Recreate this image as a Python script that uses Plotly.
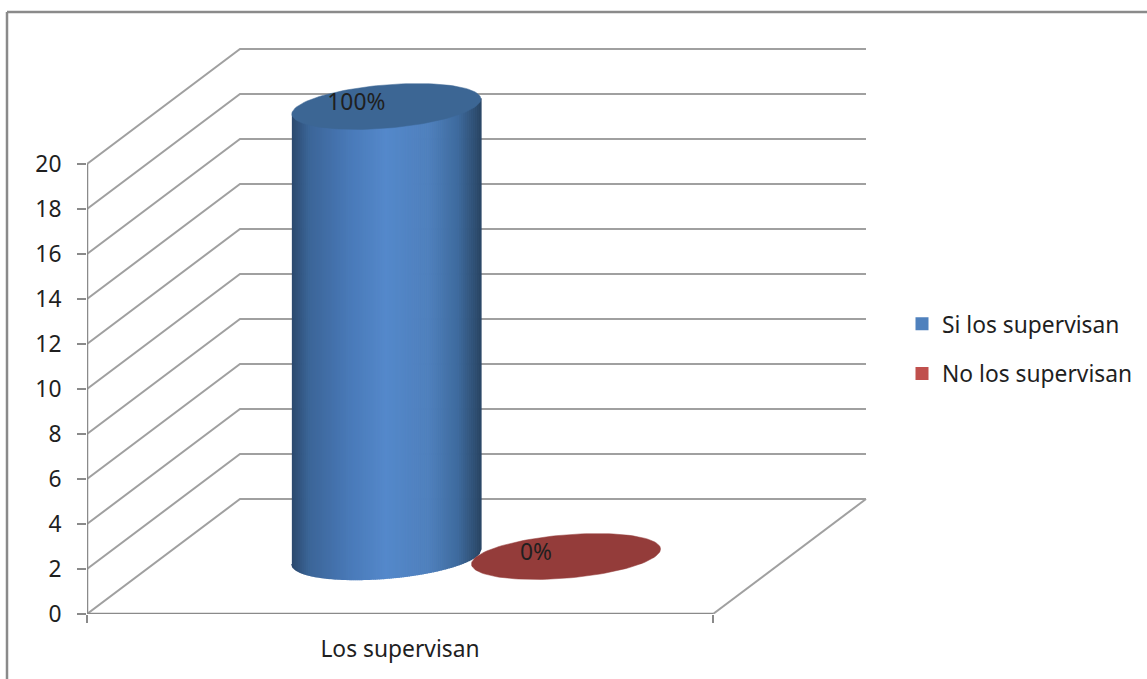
import numpy as np
import plotly.graph_objects as go

# ---- data ----
category = "Los supervisan"
series_names = ["Si los supervisan", "No los supervisan"]
series_values = [20, 0]
series_labels = ["100%", "0%"]
y_ticks = [0, 2, 4, 6, 8, 10, 12, 14, 16, 18, 20]
series_pos = [0.356, 0.643]      # place along the category axis (0..1)

# ---- geometry ----
W, H = 1147, 679
L, R, T, B = 87, 280, 48, 65      # plot margins
PW, PH = W - L - R, H - T - B
X_UNIT = 626.0                    # px per category
Y_UNIT = 22.5                     # px per value unit
DEPTH_X = 153 / X_UNIT            # oblique offset of the back wall
DEPTH_Y = 115 / Y_UNIT
A = 94.5 / X_UNIT                 # ellipse half width
Bk = 21.7 / Y_UNIT                # ellipse half height
S = 7.5 / Y_UNIT                  # ellipse tilt
GRID = "#a0a0a0"
AXIS = "#8a8a8a"
TXT = "#1f1f1f"
FONT = "Noto Sans"
FS = 22.8


def proj(x, depth, val):
    return x + depth * DEPTH_X, val + depth * DEPTH_Y


def hex2rgb(h):
    return np.array([int(h[i:i + 2], 16) for i in (1, 3, 5)], float)


def shade(u, stops):
    us = [s[0] for s in stops]
    cs = np.array([hex2rgb(s[1]) for s in stops])
    c = [np.interp(u, us, cs[:, k]) for k in range(3)]
    return "rgb(%d,%d,%d)" % tuple(c)


stops = [(-1.0, "#2a486d"), (-0.82, "#3c6698"), (-0.4, "#4a7ab8"), (0.0, "#5589cb"),
         (0.45, "#4f80bd"), (0.75, "#3f6c9f"), (1.0, "#294564")]

fig = go.Figure()


def add_line(xs, ys, color=GRID, width=2):
    fig.add_trace(go.Scatter(x=xs, y=ys, mode="lines", line=dict(color=color, width=width),
                             hoverinfo="skip", showlegend=False, cliponaxis=False))


# walls and floor
for v in y_ticks:
    x0, y0 = proj(0, 0, v)
    x1, y1 = proj(0, 1, v)
    x2, y2 = proj(1, 1, v)
    add_line([x0, x1, x2], [y0, y1, y2])
fx, fy = proj(1, 0, 0)
bx, by = proj(1, 1, 0)
add_line([fx, bx], [fy, by])
add_line([0, 1], [0, 0], AXIS, 2.5)
add_line([0, 0], [0, y_ticks[-1]], AXIS, 2.5)

# cylinder (first series): vertical slices with a horizontal shading
cx, cy = proj(series_pos[0], 0.5, 0)
N = 95
edges = np.linspace(-1, 1, N + 1)
val = series_values[0]
for a, b in zip(edges[:-1], edges[1:]):
    us = np.linspace(a, b, 3)
    low = cy + S * us - Bk * np.sqrt(np.clip(1 - us ** 2, 0, 1))
    top = cy + val + S * us
    xs = cx + A * us
    col = shade((a + b) / 2, stops)
    fig.add_trace(go.Scatter(x=list(xs) + list(xs[::-1]), y=list(top) + list(low[::-1]),
                             mode="lines", fill="toself", fillcolor=col,
                             line=dict(color=col, width=1.5),
                             hoverinfo="skip", showlegend=False))


def ellipse(xc, yc):
    t = np.linspace(0, 2 * np.pi, 121)
    return xc + A * np.cos(t), yc + S * np.cos(t) + Bk * np.sin(t)


ex, ey = ellipse(cx, cy + series_values[0])
fig.add_trace(go.Scatter(x=ex, y=ey, mode="lines", fill="toself", fillcolor="#3c6694",
                         line=dict(color="#3c6694", width=0.5), hoverinfo="skip", showlegend=False))
cx2, cy2 = proj(series_pos[1], 0.5, 0)
ex, ey = ellipse(cx2, cy2 + series_values[1])
fig.add_trace(go.Scatter(x=ex, y=ey, mode="lines", fill="toself", fillcolor="#943c3a",
                         line=dict(color="#943c3a", width=0.5), hoverinfo="skip", showlegend=False))

# data labels
LAB_DX = -30 / X_UNIT
LAB_DY = 2 / Y_UNIT
fig.add_trace(go.Scatter(
    x=[cx + LAB_DX, cx2 + LAB_DX],
    y=[cy + series_values[0] + LAB_DY, cy2 + series_values[1] + LAB_DY],
    mode="text", text=series_labels, textposition="middle center",
    textfont=dict(family=FONT, size=FS, color=TXT), hoverinfo="skip", showlegend=False))

# legend entries
for i, (name, col) in enumerate(zip(series_names, ["#4f81bd", "#c0504d"])):
    fig.add_trace(go.Scatter(x=[None], y=[None], mode="markers", name=name,
                             legendgroup=name,
                             marker=dict(symbol="square", size=13, color=col)))

fig.update_layout(
    width=W, height=H,
    margin=dict(l=L, r=R, t=T, b=B, autoexpand=False),
    paper_bgcolor="white", plot_bgcolor="white",
    font=dict(family=FONT, size=FS, color=TXT),
    xaxis=dict(range=[0, PW / X_UNIT], tickvals=[0.5], ticktext=[category], ticks="outside",
               ticklen=1, tickcolor="rgba(0,0,0,0)", ticklabelstandoff=14,
               showgrid=False, zeroline=False, showline=False,
               minor=dict(tickvals=[0, 1], ticks="outside", ticklen=8, tickwidth=2, tickcolor=AXIS),
               tickfont=dict(family=FONT, size=FS, color=TXT)),
    yaxis=dict(range=[0, PH / Y_UNIT], tickvals=y_ticks, ticks="outside", ticklen=9, tickwidth=2,
               tickcolor=AXIS, ticklabelstandoff=11,
               showgrid=False, zeroline=False, showline=False,
               tickfont=dict(family=FONT, size=FS, color=TXT)),
    legend=dict(x=(902 - L) / PW, y=(T + PH - 349) / PH, xanchor="left", yanchor="middle",
                tracegroupgap=17, bgcolor="rgba(0,0,0,0)",
                font=dict(family=FONT, size=FS, color=TXT)),
    shapes=[
        dict(type="line", xref="paper", yref="paper", x0=(7 - L) / PW, x1=(W - L) / PW,
             y0=(T + PH - 12) / PH, y1=(T + PH - 12) / PH, line=dict(color=AXIS, width=2.5)),
        dict(type="line", xref="paper", yref="paper", x0=(7 - L) / PW, x1=(7 - L) / PW,
             y0=(T + PH - 12) / PH, y1=(T + PH - H) / PH, line=dict(color=AXIS, width=2.5)),
    ],
)

fig.write_html("out.html", config=dict(displayModeBar=False),
               post_script="document.body.style.margin='0';")
